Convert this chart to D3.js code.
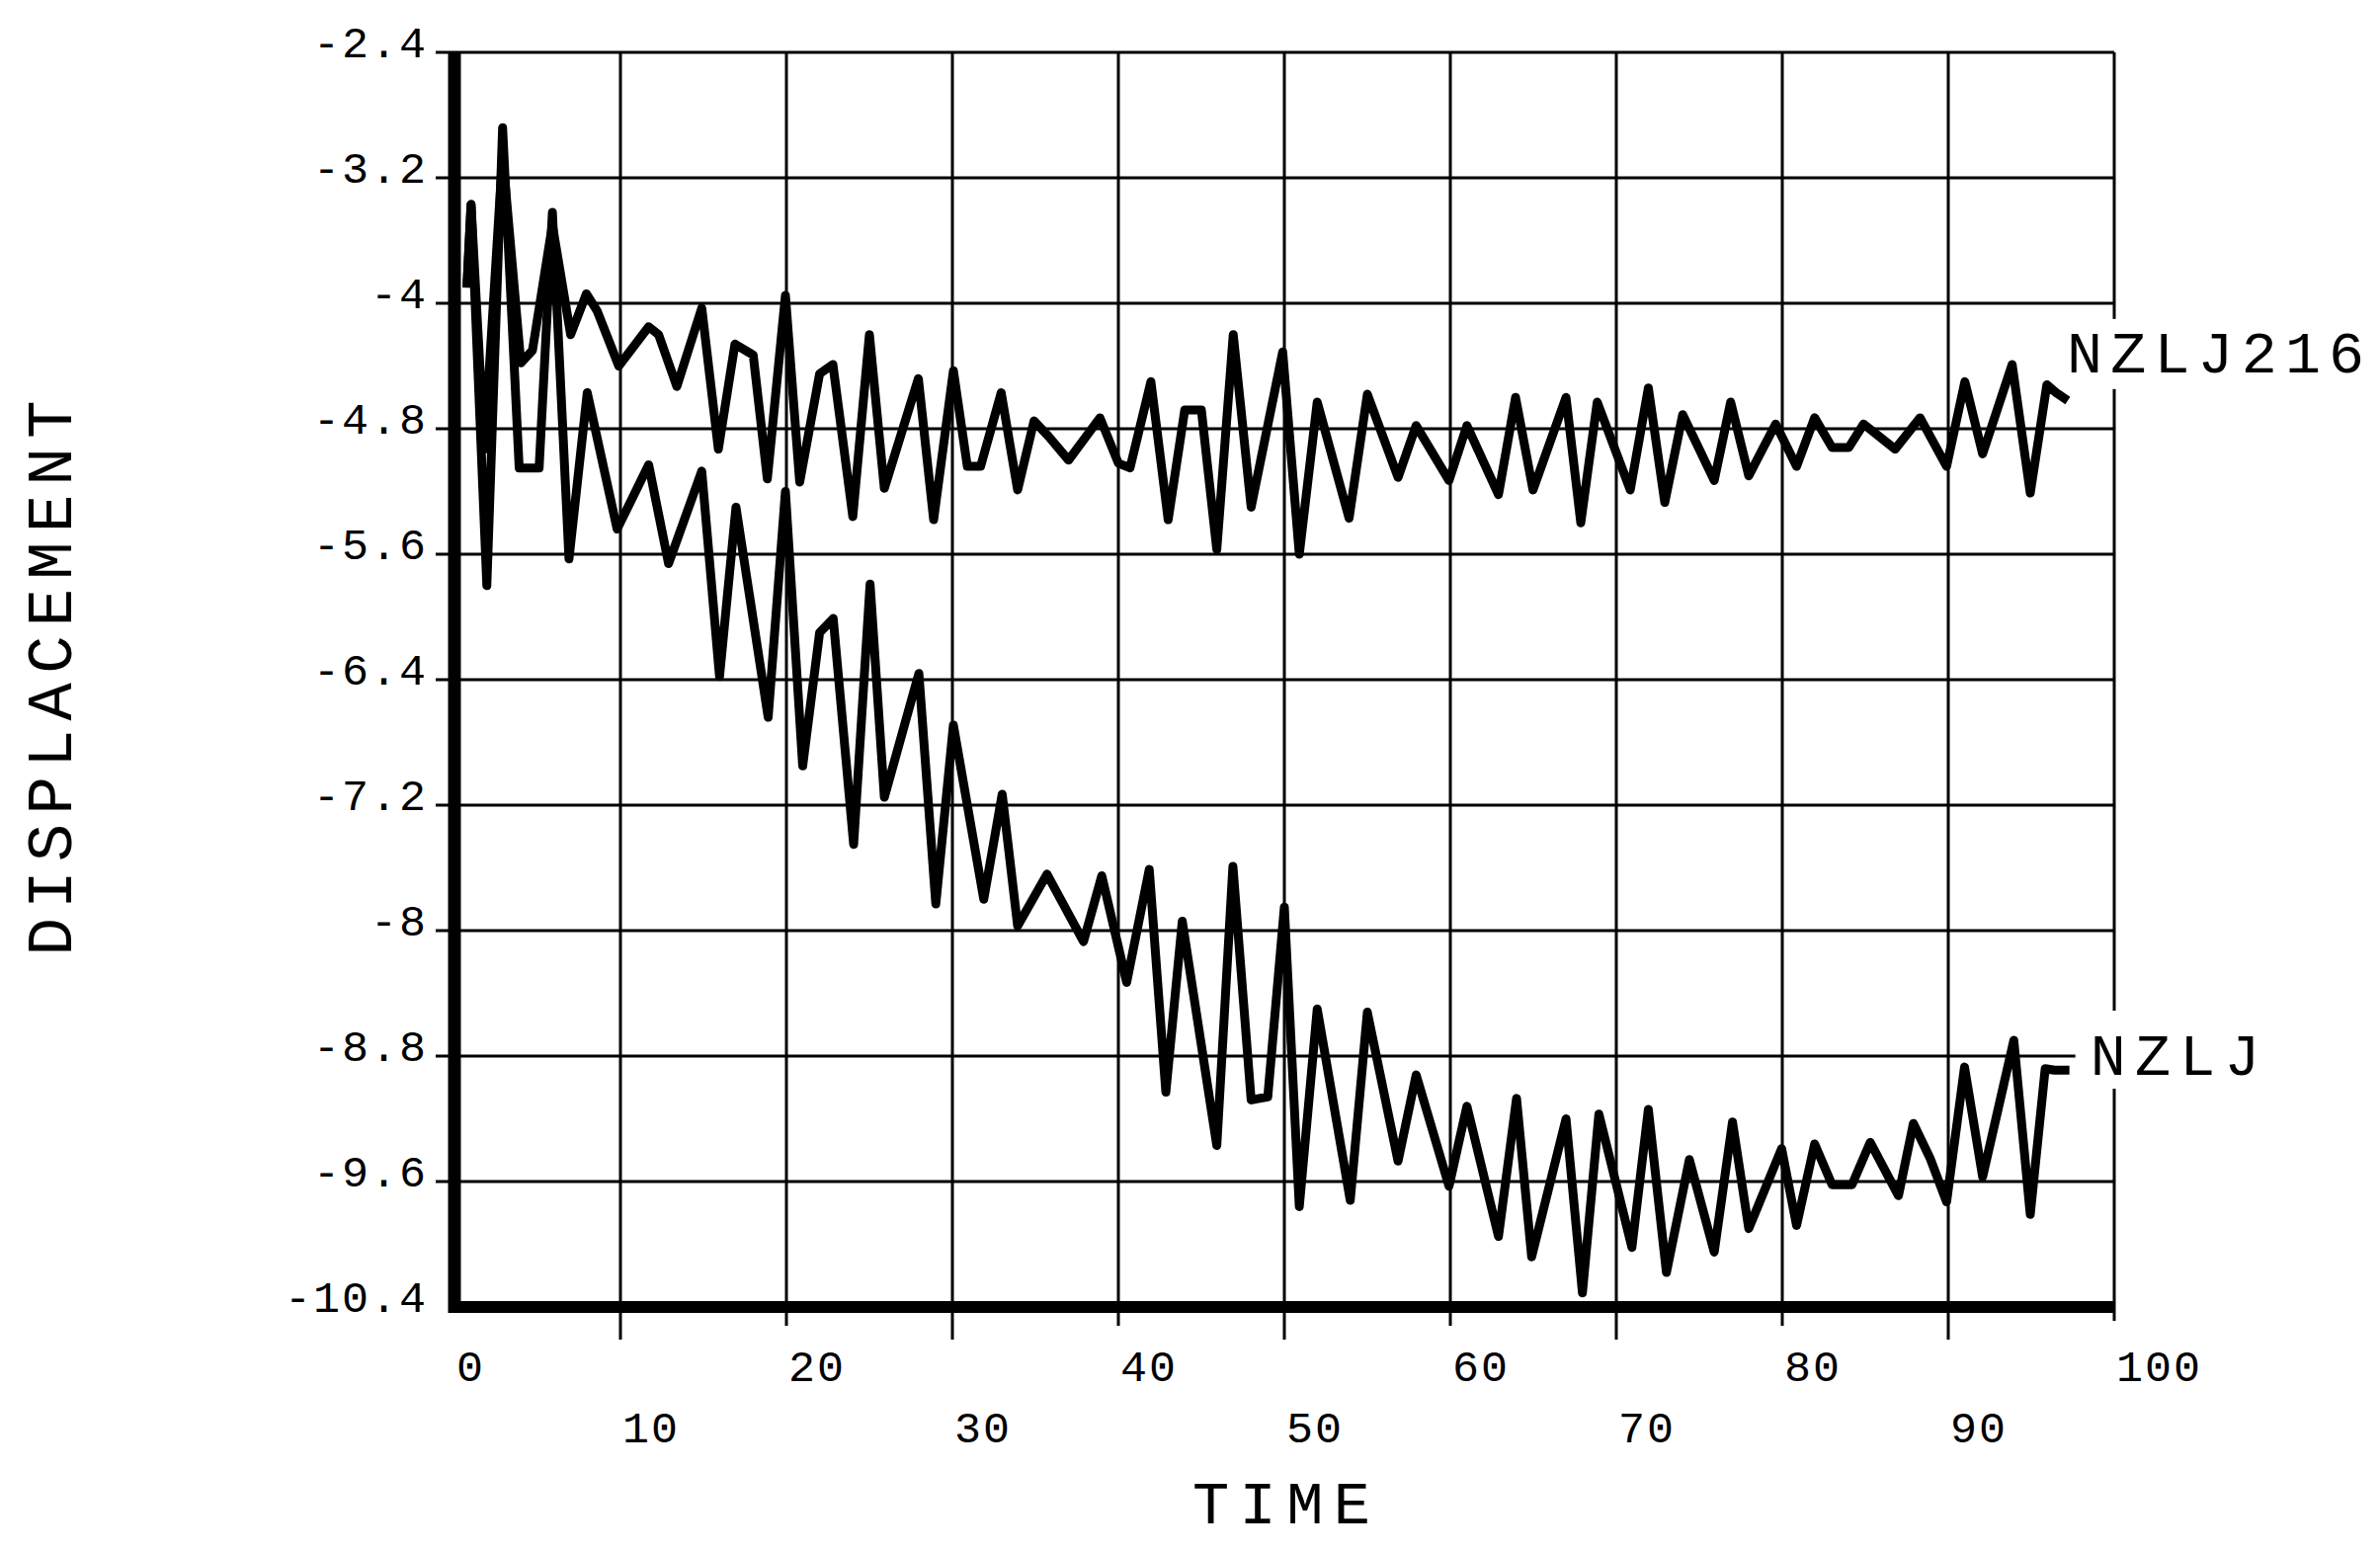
<!DOCTYPE html>
<html>
<head>
<meta charset="utf-8">
<script src="https://cdn.jsdelivr.net/npm/d3@7"></script>
<style>
  body { margin: 0; background: #fff; }
  svg { display: block; }
  text { font-family: "Liberation Mono", "DejaVu Sans Mono", monospace; fill: #000; }
</style>
</head>
<body>
<svg id="chart"></svg>
<script>
// NZLJ216 (upper trace) - turning points
const nzlj216Time = [0.75, 1.0, 1.8, 2.9, 4.0, 4.7, 5.9, 7.0, 7.95, 8.6, 9.9, 11.7, 12.3, 13.4, 14.9, 15.9,
  16.9, 18.0, 18.85, 19.94, 20.8, 22.0, 22.8, 24.0, 25.0, 25.9, 27.95, 28.87, 30.06, 30.9, 31.7, 32.94,
  33.93, 34.92, 35.8, 37.0, 38.89, 40.0, 40.7, 41.96, 43.0, 44.0, 45.0, 45.93, 46.92, 48.0, 49.9, 50.9,
  51.98, 53.9, 55.0, 56.85, 57.94, 59.92, 61.0, 62.9, 63.93, 64.98, 66.97, 67.86, 68.85, 70.84, 71.93,
  72.92, 74.0, 75.9, 76.89, 77.98, 79.6, 80.86, 81.95, 83.0, 84.0, 84.9, 86.8, 88.3, 89.9, 91.0, 92.07,
  93.85, 94.94, 95.94, 96.5, 97.2];
const nzlj216Disp = [-3.9, -3.37, -4.93, -3.05, -4.38, -4.3, -3.5, -4.2, -3.94, -4.05, -4.4, -4.15, -4.2, -4.53, -4.03, -4.93,
  -4.26, -4.33, -5.12, -3.95, -5.14, -4.45, -4.39, -5.36, -4.2, -5.18, -4.48, -5.38, -4.43, -5.04, -5.04, -4.57,
  -5.19, -4.75, -4.85, -5.0, -4.73, -5.02, -5.05, -4.5, -5.38, -4.68, -4.68, -5.57, -4.2, -5.3, -4.31, -5.6,
  -4.63, -5.37, -4.58, -5.11, -4.78, -5.13, -4.78, -5.22, -4.6, -5.19, -4.6, -5.4, -4.63, -5.19, -4.54,
  -5.27, -4.71, -5.13, -4.63, -5.1, -4.77, -5.04, -4.73, -4.92, -4.92, -4.77, -4.93, -4.73, -5.04, -4.5, -4.96,
  -4.39, -5.21, -4.52, -4.57, -4.62];

// NZLJ (lower trace)
const nzljTime = [0.75, 1.0, 1.95, 2.9, 3.9, 5.1, 5.9, 6.9, 8.0, 9.8, 11.7, 12.9, 14.9, 15.97, 16.96, 18.9,
  19.94, 20.98, 22.0, 22.82, 24.05, 25.04, 25.9, 27.98, 29.0, 30.06, 31.89, 33.0, 33.93, 35.7, 37.9, 39.0,
  40.5, 41.86, 42.86, 43.85, 45.93, 46.9, 48.0, 49.0, 50.0, 50.9, 51.98, 53.97, 55.0, 56.85, 57.94, 59.92,
  61.0, 62.9, 63.99, 64.9, 66.97, 67.96, 68.95, 70.94, 71.93, 73.02, 74.4, 75.9, 77.0, 77.98, 79.96, 80.86,
  81.95, 83.0, 84.2, 85.3, 87.0, 87.9, 88.9, 89.9, 90.98, 92.07, 93.95, 94.94, 95.84, 96.4, 97.3];
const nzljDisp = [-3.9, -3.37, -5.8, -2.88, -5.05, -5.05, -3.42, -5.63, -4.57, -5.44, -5.03, -5.66, -5.07, -6.38, -5.3, -6.64,
  -5.2, -6.95, -6.1, -6.01, -7.45, -5.79, -7.15, -6.36, -7.83, -6.69, -7.8, -7.13, -7.97, -7.64, -8.07, -7.65,
  -8.33, -7.61, -9.03, -7.94, -9.37, -7.59, -9.08, -9.06, -7.85, -9.76, -8.5, -9.72, -8.52, -9.47, -8.92, -9.63,
  -9.12, -9.95, -9.07, -10.08, -9.2, -10.31, -9.17, -10.02, -9.14, -10.18, -9.46, -10.05, -9.22, -9.9, -9.39, -9.88,
  -9.36, -9.62, -9.62, -9.35, -9.69, -9.23, -9.45, -9.73, -8.87, -9.57, -8.7, -9.81, -8.88, -8.89, -8.89];

const xTicks = [0, 10, 20, 30, 40, 50, 60, 70, 80, 90, 100];
const yTicks = [-2.4, -3.2, -4, -4.8, -5.6, -6.4, -7.2, -8, -8.8, -9.6, -10.4];
const yTickLabels = ["-2.4", "-3.2", "-4", "-4.8", "-5.6", "-6.4", "-7.2", "-8", "-8.8", "-9.6", "-10.4"];

const seriesNames = ["NZLJ216", "NZLJ"];
// where each name sits (time, displacement of its baseline)
const labelTime = [97.15, 98.55];
const labelDisp = [-4.44, -8.92];

const width = 2409;
const height = 1571;
const margin = { top: 53, right: 269, bottom: 248, left: 460 };

const svg = d3.select("#chart").attr("width", width).attr("height", height);
svg.append("rect").attr("width", width).attr("height", height).attr("fill", "#fff");

const x = d3.scaleLinear().domain([0, 100]).range([margin.left, width - margin.right]);
const y = d3.scaleLinear().domain([-2.4, -10.4]).range([margin.top, height - margin.bottom]);

// horizontal grid (top one doubles as the frame)
svg.append("g")
  .selectAll("line")
  .data(yTicks.slice(0, -1))
  .join("line")
  .attr("x1", x(0) - 19)
  .attr("x2", x(100))
  .attr("y1", (d) => y(d))
  .attr("y2", (d) => y(d))
  .attr("stroke", "#000")
  .attr("stroke-width", 3);

// vertical grid, ticks drop below the axis (longer for the lower label row)
svg.append("g")
  .selectAll("line")
  .data(xTicks.slice(1, -1))
  .join("line")
  .attr("x1", (d) => x(d))
  .attr("x2", (d) => x(d))
  .attr("y1", y(-2.4))
  .attr("y2", (d, i) => y(-10.4) + (i % 2 === 0 ? 33 : 19))
  .attr("stroke", "#000")
  .attr("stroke-width", 3);

// right frame
svg.append("line")
  .attr("x1", x(100)).attr("x2", x(100))
  .attr("y1", y(-2.4)).attr("y2", y(-10.4) + 14)
  .attr("stroke", "#000").attr("stroke-width", 3);

// heavy axes
svg.append("line")
  .attr("x1", x(0)).attr("x2", x(0))
  .attr("y1", y(-2.4)).attr("y2", y(-10.4) + 6)
  .attr("stroke", "#000").attr("stroke-width", 13);
svg.append("line")
  .attr("x1", x(0) - 6).attr("x2", x(100) + 1)
  .attr("y1", y(-10.4)).attr("y2", y(-10.4))
  .attr("stroke", "#000").attr("stroke-width", 12);

// y tick labels
svg.append("g")
  .selectAll("text")
  .data(yTicks)
  .join("text")
  .attr("x", x(0) - 27)
  .attr("y", (d) => y(d) + 5)
  .attr("text-anchor", "end")
  .attr("font-size", 45)
  .style("letter-spacing", "2px")
  .text((d, i) => yTickLabels[i]);

// x tick labels, staggered on two rows
svg.append("g")
  .selectAll("text")
  .data(xTicks)
  .join("text")
  .attr("x", (d) => x(d) + 2)
  .attr("y", (d, i) => y(-10.4) + (i % 2 === 0 ? 75 : 137))
  .attr("font-size", 45)
  .style("letter-spacing", "2px")
  .text((d) => d);

// axis titles
svg.append("text")
  .attr("x", (x(0) + x(100)) / 2 - 3)
  .attr("y", y(-10.4) + 219)
  .attr("text-anchor", "middle")
  .attr("font-size", 62)
  .attr("textLength", 180)
  .attr("lengthAdjust", "spacing")
  .text("TIME");

svg.append("text")
  .attr("transform", `translate(72,${y(-6.39)}) rotate(-90)`)
  .attr("text-anchor", "middle")
  .attr("font-size", 64)
  .attr("textLength", 562)
  .attr("lengthAdjust", "spacing")
  .text("DISPLACEMENT");

// white boxes behind the series names (they cut the frame and grid)
const boxes = [
  { x0: x(97.3) - 10, x1: width, y0: y(-4.44) - 54, y1: y(-4.44) + 17 },
  { x0: x(97.3) + 6, x1: x(97.3) + 205, y0: y(-8.92) - 65, y1: y(-8.92) + 14 }
];
svg.append("g")
  .selectAll("rect")
  .data(boxes)
  .join("rect")
  .attr("x", (d) => d.x0)
  .attr("y", (d) => d.y0)
  .attr("width", (d) => d.x1 - d.x0)
  .attr("height", (d) => d.y1 - d.y0)
  .attr("fill", "#fff");

// the two traces
const series = [
  nzlj216Time.map((t, i) => ({ t, v: nzlj216Disp[i] })),
  nzljTime.map((t, i) => ({ t, v: nzljDisp[i] }))
];

const line = d3.line()
  .x((d) => x(d.t))
  .y((d) => y(d.v));

svg.append("g")
  .selectAll("path")
  .data(series)
  .join("path")
  .attr("d", line)
  .attr("fill", "none")
  .attr("stroke", "#000")
  .attr("stroke-width", 9)
  .attr("stroke-linejoin", "round");

// series names
svg.append("g")
  .selectAll("text")
  .data(seriesNames)
  .join("text")
  .attr("x", (d, i) => x(labelTime[i]))
  .attr("y", (d, i) => y(labelDisp[i]))
  .attr("font-size", 60)
  .attr("textLength", (d) => d.length * 43)
  .attr("lengthAdjust", "spacing")
  .text((d) => d);
</script>
</body>
</html>
